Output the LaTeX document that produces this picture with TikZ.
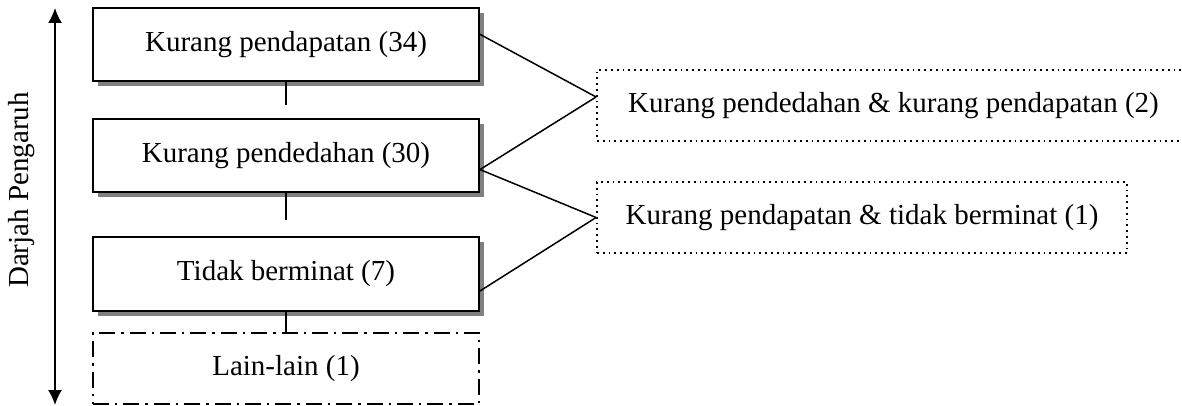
\documentclass[tikz,border=0pt]{standalone}
\usepackage{fontspec}
\setmainfont{Liberation Serif}
\usepackage{tikz}
\usetikzlibrary{arrows.meta,shadows}

\begin{document}
\begin{tikzpicture}[x=0.5pt,y=-0.5pt,
	font=\fontsize{14.5}{17}\selectfont,
	faktor/.style={draw, line width=1pt, fill=white, inner sep=0pt, minimum width=193pt, minimum height=36.5pt,
		drop shadow={shadow xshift=2.5pt, shadow yshift=-2.5pt, fill=black!50, opacity=1}},
	lain/.style={draw, line width=0.9pt, inner sep=0pt, minimum width=193pt, minimum height=35.5pt,
		dash pattern=on 8pt off 3pt on 1.2pt off 3pt},
	gabung/.style={draw, line width=0.9pt, inner sep=0pt, minimum height=35.5pt, dotted},
	sambung/.style={line width=0.75pt}]
	\useasboundingbox (0,0) rectangle (1182,406);

	\draw [{Latex[length=7.5pt,width=7pt]}-{Latex[length=7.5pt,width=7pt]}, line width=0.8pt] (55,8) -- (55,405);
	\node [rotate=90] (darjah) at (22,190) {Darjah Pengaruh};

	\node [faktor] (b1) at (286,44.5) {Kurang pendapatan (34)};
	\node [faktor] (b2) at (286,156) {Kurang pendedahan (30)};
	\node [faktor] (b3) at (286,274) {Tidak berminat (7)};
	\node [lain] (b4) at (286,368.5) {Lain-lain (1)};

	\node [gabung, minimum width=296.5pt] (d1) at (893.5,105.5) {Kurang pendedahan \& kurang pendapatan (2)};
	\node [gabung, minimum width=265pt] (d2) at (862,217.5) {Kurang pendapatan \& tidak berminat (1)};

	\coordinate (t1) at (286,105);
	\coordinate (t2) at (286,220);

	\draw [sambung] (b1.south) -- (t1);
	\draw [sambung] (b2.south) -- (t2);
	\draw [sambung] (b3.south) -- (b4.north);

	\draw [sambung] (b1.3) -- ([yshift=4.25pt]d1.west);
	\draw [sambung] (b2.-4) -- ([yshift=4.25pt]d1.west);
	\draw [sambung] (b2.-4) -- (d2.west);
	\draw [sambung] (b3.-5) -- (d2.west);
\end{tikzpicture}
\end{document}
